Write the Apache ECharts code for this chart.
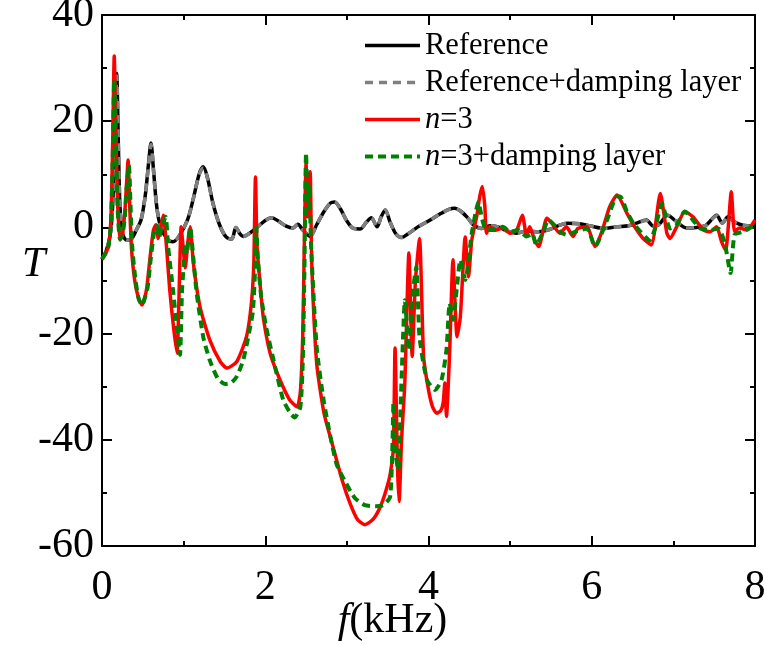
<!DOCTYPE html>
<html>
<head>
<meta charset="utf-8">
<script src="https://cdn.jsdelivr.net/npm/echarts@6/dist/echarts.min.js"></script>
<style>html,body{margin:0;padding:0;background:#fff;}#c{width:765px;height:645px;}</style>
</head>
<body>
<div id="c"></div>
<script>
const seriesNames = ['Reference', 'Reference+damping layer', 'n=3', 'n=3+damping layer'];
const xTicks = [0, 2, 4, 6, 8];
const yTicks = [-60, -40, -20, 0, 20, 40];

const refData = [[0,-6],[0.05,-4.5],[0.1,-1.5],[0.13,4],[0.16,18],[0.18,29],[0.2,16],[0.22,4],[0.25,-1],[0.3,-2.4],[0.36,-2.2],[0.42,-0.5],[0.48,1.5],[0.53,6],[0.57,12],[0.6,15.9],[0.63,11],[0.67,4],[0.72,0],[0.8,-2.2],[0.87,-2.7],[0.95,-1.5],[1.05,1.5],[1.12,5.5],[1.19,10],[1.24,11.4],[1.29,9.5],[1.36,4.5],[1.44,0.5],[1.52,-1.8],[1.59,-2.2],[1.64,0],[1.69,-1.2],[1.73,-1.7],[1.8,-1.2],[1.9,0],[2.0,1.3],[2.08,1.8],[2.16,1.2],[2.25,0.3],[2.34,-0.1],[2.4,0.6],[2.46,-0.5],[2.55,-1.7],[2.63,0.5],[2.72,3],[2.8,4.6],[2.85,4.8],[2.92,3.5],[3.0,1.2],[3.08,-0.2],[3.16,-0.3],[3.24,1],[3.3,1.8],[3.37,0.1],[3.42,2],[3.47,3.3],[3.53,1],[3.6,-1.2],[3.67,-1.9],[3.75,-1.2],[3.87,0.1],[4.0,1.2],[4.15,2.6],[4.25,3.4],[4.32,3.6],[4.4,3.0],[4.48,1.8],[4.55,0.5],[4.65,-0.2],[4.75,0.3],[4.85,0.1],[4.95,-0.6],[5.08,-1.1],[5.2,-0.7],[5.35,-0.8],[5.5,-0.3],[5.6,0.4],[5.7,0.8],[5.85,0.7],[6.0,0.2],[6.15,-0.2],[6.3,0.1],[6.45,0.3],[6.55,0.8],[6.67,1.4],[6.75,0.3],[6.82,0.5],[6.93,2.3],[7.03,1.2],[7.16,-0.1],[7.28,0],[7.4,0.4],[7.53,2.3],[7.6,0.8],[7.67,2.0],[7.75,1.0],[7.85,0.4],[8.0,0.2]];

const refDampData = [[0,-6],[0.05,-4.5],[0.1,-1.5],[0.13,4],[0.16,17.5],[0.18,28.5],[0.2,15.5],[0.22,4],[0.25,-1],[0.3,-2.4],[0.36,-2.2],[0.42,-0.5],[0.48,1.5],[0.53,6],[0.57,11.8],[0.6,15.6],[0.63,10.8],[0.67,4],[0.72,0],[0.8,-2.2],[0.87,-2.7],[0.95,-1.5],[1.05,1.5],[1.12,5.5],[1.19,9.9],[1.24,11.2],[1.29,9.4],[1.36,4.5],[1.44,0.5],[1.52,-1.8],[1.59,-2.2],[1.64,0],[1.69,-1.2],[1.73,-1.7],[1.8,-1.2],[1.9,0],[2.0,1.3],[2.08,1.8],[2.16,1.2],[2.25,0.3],[2.34,-0.1],[2.4,0.6],[2.46,-0.5],[2.55,-1.7],[2.63,0.5],[2.72,3],[2.8,4.6],[2.85,4.8],[2.92,3.5],[3.0,1.2],[3.08,-0.2],[3.16,-0.3],[3.24,1],[3.3,1.8],[3.37,0.1],[3.42,2],[3.47,3.3],[3.53,1],[3.6,-1.2],[3.67,-1.9],[3.75,-1.2],[3.87,0.1],[4.0,1.2],[4.15,2.6],[4.25,3.4],[4.32,3.6],[4.4,3.0],[4.48,1.8],[4.55,0.5],[4.65,-0.2],[4.75,0.3],[4.85,0.1],[4.95,-0.6],[5.08,-1.1],[5.2,-0.7],[5.35,-0.8],[5.5,-0.3],[5.6,0.4],[5.7,0.8],[5.85,0.7],[6.0,0.2],[6.15,-0.2],[6.3,0.1],[6.45,0.3],[6.55,0.8],[6.67,1.3],[6.75,0.3],[6.82,0.5],[6.93,2.3],[7.03,1.2],[7.16,-0.1],[7.28,0],[7.4,0.4],[7.53,2.2],[7.6,0.8],[7.67,2.0],[7.75,1.0],[7.85,0.4],[8.0,0.2]];

const n3Data = [[0,-6],[0.04,-5],[0.08,-3.6],[0.11,2],[0.13,15],[0.15,32.3],[0.17,18],[0.19,5],[0.22,-2.4],[0.25,-1.5],[0.28,3],[0.30,8],[0.32,12.7],[0.34,4],[0.36,-3.6],[0.40,-9.9],[0.45,-13.5],[0.49,-14.6],[0.52,-13.5],[0.55,-11.2],[0.59,-5.5],[0.63,-0.5],[0.66,0.5],[0.69,-2.1],[0.72,0],[0.75,2.3],[0.79,-3.6],[0.83,-11.8],[0.88,-19.3],[0.92,-23.7],[0.94,-15],[0.97,0.1],[0.99,-3],[1.02,-7.6],[1.05,-3],[1.08,0.1],[1.12,-6.8],[1.20,-14.9],[1.32,-21.2],[1.45,-25.3],[1.53,-26.5],[1.65,-25.3],[1.77,-20.6],[1.83,-14.3],[1.86,-6.7],[1.88,9.5],[1.90,-3.6],[1.95,-13],[1.98,-17.4],[2.06,-23.7],[2.18,-28.7],[2.30,-32.5],[2.39,-33.8],[2.43,-31],[2.46,-20],[2.48,-2],[2.50,12],[2.52,2],[2.55,10.5],[2.57,-6.8],[2.63,-25.6],[2.72,-35],[2.83,-41.3],[2.95,-48],[3.04,-52],[3.13,-55],[3.22,-56],[3.32,-55],[3.41,-52.6],[3.48,-49.5],[3.53,-46.5],[3.57,-41.3],[3.59,-22.7],[3.62,-45],[3.64,-51.6],[3.67,-40],[3.71,-29.3],[3.76,-4.8],[3.80,-24.3],[3.84,-10],[3.89,-2.1],[3.94,-24.3],[4.00,-30.6],[4.05,-33.8],[4.10,-35.0],[4.15,-34.5],[4.18,-33],[4.20,-29.3],[4.22,-35.6],[4.26,-23.1],[4.30,-6.1],[4.35,-20.6],[4.39,-16.8],[4.45,-1.8],[4.49,-9.3],[4.53,-2.4],[4.59,2],[4.63,6],[4.66,7.7],[4.69,4],[4.71,-1.1],[4.75,0.1],[4.83,-0.5],[4.91,-0.1],[5.0,-1.1],[5.08,-0.5],[5.15,2.3],[5.2,-1.4],[5.24,0.1],[5.30,-2.4],[5.35,-3.6],[5.45,1.7],[5.51,0.8],[5.61,-1.1],[5.69,0.1],[5.77,-1.7],[5.83,-0.2],[5.94,0.1],[6.04,-3.6],[6.12,-1],[6.22,3.9],[6.31,6.1],[6.43,2.7],[6.51,0.5],[6.63,-2.1],[6.73,-3.3],[6.84,6.4],[6.92,-1.1],[6.96,-2.1],[7.04,0.1],[7.14,3.0],[7.24,2.0],[7.37,-0.5],[7.45,-0.8],[7.53,0.1],[7.59,-2.7],[7.64,-4.3],[7.71,6.7],[7.75,-0.8],[7.81,-0.1],[7.90,-0.5],[8.0,1.4]];

const n3DampData = [[0,-6],[0.04,-5],[0.08,-3.5],[0.11,1],[0.13,12],[0.15,27.8],[0.17,16],[0.19,4],[0.22,-2.2],[0.25,-1.5],[0.28,2],[0.30,7],[0.33,11.7],[0.35,4],[0.37,-3.6],[0.41,-9.9],[0.45,-13.5],[0.49,-14.6],[0.52,-13.5],[0.56,-11.2],[0.60,-5.5],[0.64,-0.8],[0.67,0.3],[0.70,-1.8],[0.74,0.5],[0.78,2.0],[0.81,-3.6],[0.87,-11.8],[0.92,-19.3],[0.955,-24],[0.98,-12],[1.00,-7.4],[1.02,-3],[1.04,-5],[1.06,-2],[1.08,0.1],[1.12,-6],[1.16,-12.4],[1.24,-20.6],[1.32,-25],[1.42,-28.5],[1.51,-29.5],[1.58,-29.3],[1.65,-28.1],[1.73,-25],[1.80,-20],[1.85,-15.6],[1.88,-6.1],[1.89,0],[1.91,-6],[1.95,-13],[2.01,-18.7],[2.13,-26.9],[2.22,-32.5],[2.30,-34.8],[2.36,-35.8],[2.43,-33.8],[2.46,-25],[2.48,-8],[2.50,14],[2.52,5],[2.54,8],[2.56,-3],[2.63,-22.5],[2.72,-33],[2.87,-44.4],[2.99,-48.2],[3.10,-51],[3.22,-52.3],[3.35,-52.5],[3.45,-52.3],[3.53,-50.7],[3.56,-40],[3.57,-33],[3.59,-42],[3.63,-45.7],[3.66,-33],[3.69,-19.9],[3.71,-13.7],[3.76,-23.1],[3.81,-12],[3.85,-7.4],[3.89,-20.6],[3.98,-28.7],[4.08,-30.6],[4.16,-28.7],[4.22,-23.1],[4.26,-14.3],[4.30,-17.4],[4.35,-11],[4.39,-6.1],[4.45,-9.9],[4.53,-1.1],[4.58,3],[4.61,4.8],[4.66,1.4],[4.71,-0.5],[4.82,-0.5],[4.91,0.1],[5.0,-0.8],[5.10,-0.5],[5.2,-1.7],[5.27,-1.2],[5.32,-3.3],[5.40,-1],[5.47,1.4],[5.55,0.3],[5.61,-0.8],[5.69,-1.4],[5.80,-0.8],[5.94,-0.2],[6.04,-3.6],[6.18,1.1],[6.31,5.8],[6.35,5.8],[6.43,3],[6.51,0.8],[6.71,-2.4],[6.78,0],[6.86,4.5],[6.96,-0.2],[7.04,0.5],[7.14,3.0],[7.26,1],[7.33,-0.2],[7.45,-0.5],[7.55,-0.2],[7.63,-3.0],[7.70,-8.6],[7.75,-1.4],[7.85,-0.8],[8.0,0.4]];

const FONT = '"Liberation Serif","Times New Roman",serif';
const chart = echarts.init(document.getElementById('c'), null, {renderer: 'canvas'});

const axisCommon = {
  axisLine: {show: true, onZero: false, lineStyle: {color: '#000', width: 2}},
  axisTick: {show: true, inside: true, length: 10, lineStyle: {color: '#000', width: 2}},
  minorTick: {show: true, splitNumber: 2, length: 5, lineStyle: {color: '#000', width: 2}},
  splitLine: {show: false},
  minorSplitLine: {show: false}
};

const option = {
  animation: false,
  backgroundColor: '#fff',
  grid: {left: 102, right: 10, top: 15, bottom: 99, containLabel: false, outerBoundsMode: 'none'},
  legend: {
    orient: 'vertical', left: 363, top: 30,
    itemWidth: 55, itemHeight: 12, itemGap: 6, padding: 0,
    data: seriesNames,
    itemStyle: {opacity: 0},
    lineStyle: {width: 'inherit'},
    formatter: function (name) {
      if (name === 'n=3') return '{i|n}{r|=3}';
      if (name === 'n=3+damping layer') return '{i|n}{r|=3+damping layer}';
      return '{r|' + name + '}';
    },
    textStyle: {
      fontFamily: FONT, fontSize: 30.5, color: '#000',
      rich: {
        i: {fontFamily: FONT, fontSize: 30.5, fontStyle: 'italic', color: '#000'},
        r: {fontFamily: FONT, fontSize: 30.5, color: '#000'}
      }
    }
  },
  graphic: [
    {type: 'text', left: 22, top: 244, style: {text: 'T', fontFamily: FONT, fontSize: 42, fontStyle: 'italic', fill: '#000'}}
  ],
  xAxis: [
    Object.assign({}, axisCommon, {
      type: 'value', position: 'bottom', min: 0, max: 8, interval: 2,
      axisLabel: {show: true, fontFamily: FONT, fontSize: 42, color: '#000', margin: 21,
        formatter: v => xTicks.includes(v) ? String(v) : ''},
      name: '{i|f}{r|(kHz)}', nameLocation: 'middle', nameGap: 54, nameMoveOverlap: false,
      nameTextStyle: {padding: [0, 72, 0, 0], rich: {
        i: {fontFamily: FONT, fontSize: 42, fontStyle: 'italic', color: '#000'},
        r: {fontFamily: FONT, fontSize: 42, color: '#000'}}}
    }),
    Object.assign({}, axisCommon, {
      type: 'value', position: 'top', min: 0, max: 8, interval: 2,
      axisLabel: {show: false}
    })
  ],
  yAxis: [
    Object.assign({}, axisCommon, {
      type: 'value', position: 'left', min: -60, max: 40, interval: 20,
      axisLabel: {show: true, fontFamily: FONT, fontSize: 42, color: '#000', margin: 8,
        formatter: v => yTicks.includes(v) ? String(v) : ''}
    }),
    Object.assign({}, axisCommon, {
      type: 'value', position: 'right', min: -60, max: 40, interval: 20,
      axisLabel: {show: false}
    })
  ],
  series: [
    {name: seriesNames[0], type: 'line', data: refData, symbol: 'none', smooth: 0.3,
      lineStyle: {color: '#000000', width: 3.5}, itemStyle: {color: '#000000'}},
    {name: seriesNames[1], type: 'line', data: refDampData, symbol: 'none', smooth: 0.3,
      lineStyle: {color: '#808080', width: 3.5, type: [8, 6]}, itemStyle: {color: '#808080'}},
    {name: seriesNames[2], type: 'line', data: n3Data, symbol: 'none', smooth: 0.2,
      lineStyle: {color: '#ff0000', width: 3.5}, itemStyle: {color: '#ff0000'}},
    {name: seriesNames[3], type: 'line', data: n3DampData, symbol: 'none', smooth: 0.2,
      lineStyle: {color: '#008000', width: 4, type: [8, 5]}, itemStyle: {color: '#008000'}}
  ]
};
chart.setOption(option);
</script>
</body>
</html>
